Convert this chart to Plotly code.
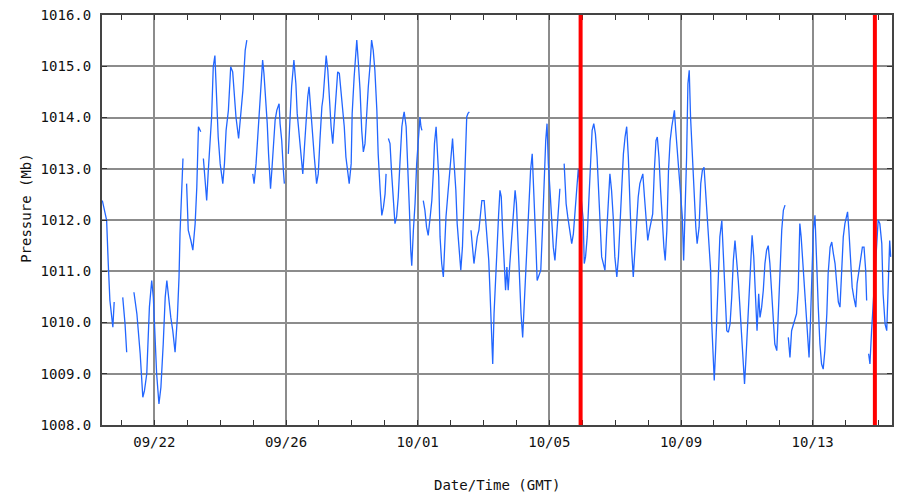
import plotly.graph_objects as go

# Time in days after 09/22 00:00 (axis labels as printed on the original chart)
days = [
    -1.58, -1.45, -1.40, -1.35, -1.26, -1.22, None,
    -0.96, -0.89, -0.84, None,
    -0.62, -0.53, -0.43, -0.35, -0.30, -0.23, -0.15, -0.08, -0.03, 0.02, 0.07, 0.14, 0.20, 0.27, 0.33,
    0.38, 0.43, 0.50, 0.56, 0.63, 0.70, 0.75, 0.78, 0.83, 0.87, None,
    0.98, 1.03, 1.11, 1.17, 1.24, 1.29, 1.34, 1.41, None,
    1.49, 1.54, 1.59, 1.64, 1.69, 1.74, 1.79, 1.84, 1.87, 1.94, 2.00, 2.08, 2.13, 2.18, 2.25, 2.32,
    2.38, 2.42, 2.48, 2.56, 2.62, 2.69, 2.76, 2.81, None,
    2.99, 3.03, 3.09, 3.16, 3.21, 3.29, 3.33, 3.38, 3.43, 3.47, 3.50, 3.53, 3.57, 3.62, 3.67, 3.72,
    3.79, 3.82, 3.87, 3.92, 3.95, None,
    4.07, 4.12, 4.17, 4.24, 4.30, 4.34, 4.40, 4.45, 4.51, 4.56, 4.61, 4.66, 4.70, 4.75, 4.80, 4.86,
    4.93, 4.98, 5.03, 5.09, 5.13, 5.19, 5.22, 5.27, 5.31, 5.37, 5.42, 5.47, 5.52, 5.57, 5.62, 5.67,
    5.72, 5.77, 5.82, 5.87, 5.92, 5.98, 6.01, 6.07, 6.11, 6.15, 6.20, 6.25, 6.30, 6.35, 6.40, 6.45,
    6.50, 6.55, 6.60, 6.65, 6.70, 6.76, 6.80, 6.86, 6.91, 6.96, 7.01, 7.04, None,
    7.11, 7.16, 7.21, 7.26, 7.31, 7.36, 7.41, 7.46, 7.52, 7.56, 7.59, 7.65, 7.70, 7.75, 7.79, 7.82,
    7.87, 7.92, 7.97, 8.02, 8.07, 8.10, 8.13, None,
    8.17, 8.22, 8.27, 8.32, 8.38, 8.43, 8.48, 8.51, 8.56, 8.60, 8.64, 8.68, 8.73, 8.78, 8.82, 8.86,
    8.91, 8.96, 9.01, 9.06, 9.10, 9.16, 9.20, 9.26, 9.31, 9.36, 9.41, 9.45, 9.49, 9.53, 9.57, None,
    9.62, 9.66, 9.71, 9.76, 9.81, 9.86, 9.91, 9.95, 10.02, 10.07, 10.12, 10.16, 10.20, 10.24, 10.28,
    10.32, 10.37, 10.42, 10.46, 10.50, 10.54, 10.58, 10.62, 10.67, 10.71, 10.75, 10.80, 10.86, 10.91,
    10.96, 11.00, 11.04, 11.09, 11.14, 11.19, 11.23, 11.28, 11.33, 11.38, 11.43, 11.48, 11.53, 11.59,
    11.63, 11.69, 11.74, 11.79, 11.84, 11.89, 11.93, 11.97, 12.02, 12.07, 12.12, 12.17, 12.22, 12.27,
    12.32, None,
    12.45, 12.51, 12.56, 12.61, 12.68, 12.73, 12.78, 12.83, 12.88, 13.03, 13.06, 13.10, 13.15, 13.20,
    13.25, 13.30, 13.35, 13.40, 13.45, 13.49, 13.54, 13.59, 13.64, 13.69, 13.74, 13.79, 13.84, 13.89,
    13.94, 13.99, 14.05, 14.10, 14.15, 14.20, 14.25, 14.30, 14.35, 14.40, 14.45, 14.50, 14.55, 14.60,
    14.65, 14.70, 14.75, 14.84, 14.89, 14.94, 14.99, 15.04, 15.09, 15.14, 15.19, 15.24, 15.28, 15.33,
    15.38, 15.43, 15.48, 15.52, 15.57, 15.62, 15.67, 15.72, 15.77, 15.80, 15.84, 15.89, 15.94, 15.99,
    16.04, 16.08, 16.12, 16.17, 16.21, 16.25, 16.29, 16.34, 16.39, 16.45, 16.49, 16.55, 16.60, 16.65,
    16.70, 16.75, 16.80, 16.85, 16.90, 16.93, 16.97, 17.01, 17.05, 17.09, 17.13, 17.18, 17.24, 17.28,
    17.34, 17.39, 17.44, 17.49, 17.54, 17.59, 17.64, 17.69, 17.74, 17.79, 17.84, 17.89, 17.93, 17.97,
    18.01, 18.07, 18.12, 18.16, 18.21, 18.26, 18.31, 18.36, 18.40, 18.45, 18.50, 18.55, 18.60, 18.65,
    18.70, 18.75, 18.80, 18.85, 18.91, 18.96, 19.01, 19.06, 19.11, 19.16, None,
    19.26, 19.31, 19.36, 19.41, 19.46, 19.51, 19.56, 19.61, 19.65, 19.70, 19.75, 19.80, 19.85, 19.89,
    19.93, 19.98, 20.02, 20.07, 20.12, 20.17, 20.22, 20.27, 20.32, 20.37, 20.43, 20.47, 20.53, 20.58,
    20.63, 20.68, 20.73, 20.78, 20.83, 20.88, 20.93, 20.98, 21.03, 21.06, 21.10, 21.15, 21.20, 21.25,
    21.31, 21.35, 21.41, 21.46, 21.51, 21.56, 21.61, 21.64, None,
    21.70, 21.74, 21.79, 21.84, 21.99, 22.04, 22.10, 22.14, 22.20, 22.25, 22.30, 22.34, 22.37,
]

pressure = [
    1012.38, 1012.00, 1011.15, 1010.43, 1009.91, 1010.40, None,
    1010.49, 1009.97, 1009.42, None,
    1010.59, 1010.17, 1009.39, 1008.54, 1008.67, 1009.00, 1010.30, 1010.82, 1010.49, 1009.65, 1009.00,
    1008.41, 1008.74, 1009.58, 1010.49, 1010.82, 1010.49, 1010.10, 1009.84, 1009.42, 1010.10, 1010.89,
    1011.73, 1012.64, 1013.20, None,
    1012.71, 1011.80, 1011.60, 1011.41, 1011.93, 1012.64, 1013.82, 1013.72, None,
    1013.20, 1012.71, 1012.38, 1012.97, 1013.49, 1014.01, 1014.99, 1015.21, 1014.73, 1013.62, 1013.10,
    1012.71, 1013.10, 1013.75, 1014.14, 1014.99, 1014.89, 1014.53, 1014.01, 1013.59, 1014.01, 1014.53,
    1015.31, 1015.51, None,
    1012.90, 1012.71, 1013.10, 1013.88, 1014.40, 1015.12, 1014.86, 1014.40, 1013.88, 1013.29, 1012.84,
    1012.61, 1012.97, 1013.56, 1013.95, 1014.14, 1014.27, 1013.88, 1013.55, 1012.97, 1012.71, None,
    1013.29, 1013.88, 1014.60, 1015.12, 1014.66, 1014.08, 1013.62, 1013.23, 1012.90, 1013.42, 1014.01,
    1014.40, 1014.60, 1014.14, 1013.68, 1013.23, 1012.71, 1012.90, 1013.55, 1014.21, 1014.40, 1014.92,
    1015.21, 1014.92, 1014.40, 1013.82, 1013.49, 1013.95, 1014.40, 1014.89, 1014.86, 1014.53, 1014.21,
    1013.82, 1013.23, 1012.90, 1012.71, 1013.10, 1014.08, 1014.79, 1015.25, 1015.51, 1015.05, 1014.53,
    1013.75, 1013.33, 1013.49, 1014.14, 1014.60, 1014.99, 1015.51, 1015.31, 1014.92, 1014.14, 1013.29,
    1012.58, 1012.09, 1012.25, 1012.51, 1012.90, None,
    1013.59, 1013.49, 1012.90, 1012.38, 1011.93, 1012.06, 1012.45, 1013.10, 1013.82, 1014.01, 1014.11,
    1013.82, 1013.10, 1012.19, 1011.41, 1011.11, 1011.80, 1012.32, 1013.10, 1013.55, 1014.01, 1013.82,
    1013.75, None,
    1012.38, 1012.19, 1011.86, 1011.70, 1012.06, 1012.38, 1012.97, 1013.49, 1013.82, 1013.42, 1012.84,
    1011.67, 1011.15, 1010.89, 1011.47, 1012.06, 1012.45, 1012.84, 1013.29, 1013.59, 1013.16, 1012.58,
    1011.93, 1011.41, 1011.02, 1011.47, 1012.45, 1013.29, 1014.01, 1014.08, 1014.11, None,
    1011.80, 1011.47, 1011.15, 1011.41, 1011.67, 1011.80, 1012.19, 1012.38, 1012.38, 1012.00, 1011.67,
    1011.21, 1010.56, 1009.97, 1009.19, 1010.17, 1010.95, 1011.73, 1012.12, 1012.58, 1012.45, 1011.80,
    1011.15, 1010.63, 1011.08, 1010.63, 1011.15, 1011.67, 1012.25, 1012.58, 1012.32, 1011.67, 1010.76,
    1010.17, 1009.71, 1010.23, 1011.02, 1011.80, 1012.45, 1012.97, 1013.29, 1012.58, 1011.54, 1010.82,
    1010.95, 1011.02, 1011.80, 1012.77, 1013.55, 1013.88, 1013.10, 1012.58, 1011.93, 1011.47, 1011.21,
    1011.67, 1012.06, 1012.61, None,
    1013.10, 1012.32, 1012.06, 1011.80, 1011.54, 1011.73, 1012.19, 1012.64, 1013.00, 1012.00, 1011.15,
    1011.28, 1011.67, 1012.38, 1013.03, 1013.75, 1013.88, 1013.68, 1013.23, 1012.71, 1011.93, 1011.28,
    1011.15, 1011.02, 1011.73, 1012.45, 1012.90, 1012.58, 1012.06, 1011.28, 1010.89, 1011.28, 1012.06,
    1012.84, 1013.29, 1013.62, 1013.82, 1013.23, 1012.06, 1011.41, 1010.89, 1011.41, 1012.06, 1012.45,
    1012.71, 1012.90, 1012.45, 1011.93, 1011.60, 1011.80, 1012.00, 1012.12, 1012.97, 1013.55, 1013.62,
    1013.23, 1012.58, 1011.93, 1011.47, 1011.21, 1011.80, 1012.97, 1013.55, 1013.82, 1014.08, 1014.14,
    1013.75, 1013.36, 1012.84, 1012.51, 1012.06, 1011.21, 1012.06, 1013.23, 1014.66, 1014.92, 1014.01,
    1013.23, 1012.58, 1011.86, 1011.54, 1011.86, 1012.71, 1012.97, 1013.03, 1012.58, 1012.06, 1011.67,
    1011.02, 1010.04, 1009.52, 1008.87, 1009.45, 1010.23, 1010.89, 1011.67, 1011.99, 1011.34, 1010.50,
    1009.84, 1009.81, 1009.97, 1010.49, 1011.21, 1011.60, 1011.28, 1010.82, 1010.30, 1009.71, 1009.19,
    1008.80, 1009.26, 1009.84, 1010.63, 1011.41, 1011.70, 1011.28, 1010.63, 1009.84, 1010.56, 1010.10,
    1010.30, 1010.63, 1011.15, 1011.41, 1011.50, 1011.15, 1010.63, 1009.97, 1009.58, 1009.45, 1010.17,
    1011.15, 1011.80, 1012.19, 1012.29, None,
    1009.71, 1009.32, 1009.84, 1009.97, 1010.04, 1010.17, 1010.63, 1011.93, 1011.67, 1011.15, 1010.63,
    1010.23, 1009.65, 1009.32, 1009.97, 1011.15, 1011.80, 1012.09, 1011.02, 1010.30, 1009.58, 1009.19,
    1009.09, 1009.45, 1010.17, 1010.95, 1011.47, 1011.57, 1011.34, 1011.15, 1010.76, 1010.40, 1010.30,
    1011.15, 1011.67, 1011.93, 1012.06, 1012.16, 1011.80, 1011.28, 1010.69, 1010.49, 1010.30, 1010.76,
    1011.02, 1011.28, 1011.47, 1011.47, 1011.02, 1010.43, None,
    1009.39, 1009.19, 1009.84, 1010.36, 1012.00, 1011.93, 1011.54, 1010.56, 1009.97, 1009.84, 1010.76,
    1011.60, 1011.28,
]

tick_days = [0, 4, 8, 12, 16, 20]
tick_labels = ["09/22", "09/26", "10/01", "10/05", "10/09", "10/13"]
marker_days = [12.95, 21.89]
y_ticks = [1008, 1009, 1010, 1011, 1012, 1013, 1014, 1015, 1016]

FONT = "DejaVu Sans Mono"

fig = go.Figure()
fig.add_trace(go.Scatter(
    x=days, y=pressure, mode="lines", connectgaps=False,
    line=dict(color="#2266ff", width=1.3), hoverinfo="skip", showlegend=False,
))

shapes = [
    dict(type="line", xref="x", yref="paper", x0=d, x1=d, y0=0, y1=1,
         line=dict(color="#ff0000", width=4), layer="above")
    for d in marker_days
]

# page body adds an 8px offset, so margins are reduced by 8px
fig.update_layout(
    width=901, height=492,
    margin=dict(l=94, r=17, t=7, b=75, autoexpand=False),
    paper_bgcolor="white", plot_bgcolor="white",
    font=dict(family=FONT, size=14, color="#111111"),
    xaxis=dict(
        range=[-1.59, 22.41], tickmode="array", tickvals=tick_days, ticktext=tick_labels,
        showgrid=True, gridcolor="#8c8c8c", gridwidth=1.5,
        ticks="inside", ticklen=5, tickcolor="#333333", mirror="ticks",
        showline=True, linecolor="#444444", linewidth=2,
        minor=dict(tick0=0, dtick=1, ticks="inside", ticklen=5, tickcolor="#333333", showgrid=False),
        ticklabelstandoff=3, zeroline=False, automargin=False, ticklabeloverflow="allow",
        tickfont=dict(family=FONT, size=14),
    ),
    yaxis=dict(
        range=[1008, 1016], tickmode="array", tickvals=y_ticks,
        ticktext=[f"{v:.1f}" for v in y_ticks],
        showgrid=True, gridcolor="#8c8c8c", gridwidth=1.5,
        ticks="inside", ticklen=5, tickcolor="#333333", mirror="ticks",
        showline=True, linecolor="#444444", linewidth=2,
        ticklabelstandoff=6, zeroline=False, automargin=False, ticklabeloverflow="allow",
        tickfont=dict(family=FONT, size=14),
    ),
    annotations=[
        dict(text="Date/Time (GMT)", xref="paper", yref="paper", x=0.5, y=-0.146,
             showarrow=False, font=dict(family=FONT, size=14), xanchor="center", yanchor="middle"),
        dict(text="Pressure (Mb)", xref="paper", yref="paper", x=-0.096, y=0.53,
             showarrow=False, textangle=-90, font=dict(family=FONT, size=14),
             xanchor="center", yanchor="middle"),
    ],
    shapes=shapes,
)

fig.write_html("out.html")
